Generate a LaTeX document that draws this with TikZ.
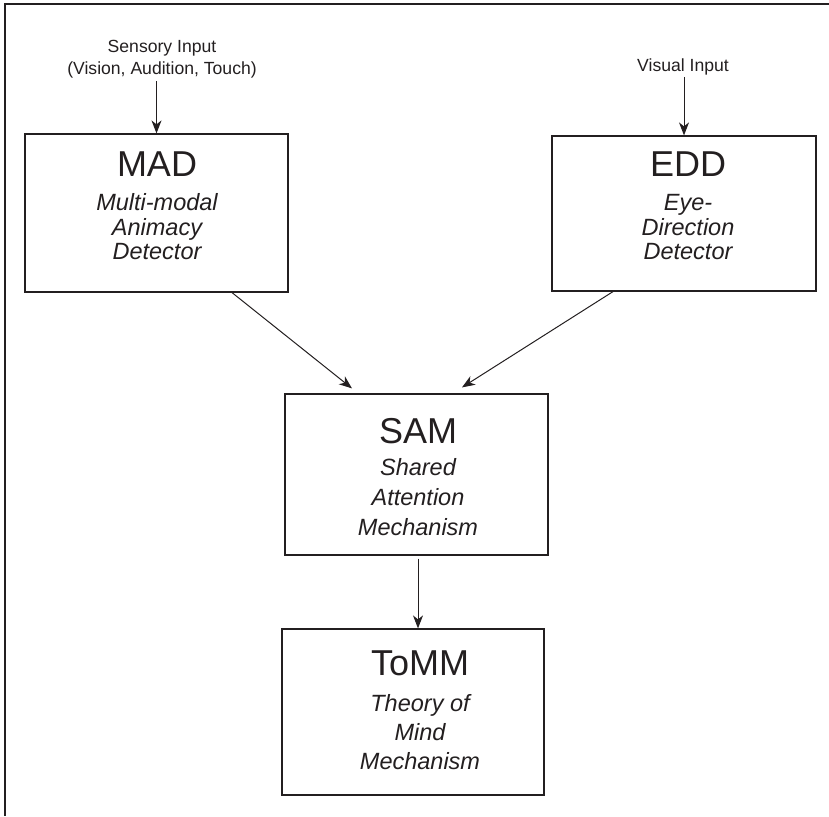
\documentclass[tikz,border=0pt]{standalone}
\usepackage{fontspec}
\setmainfont{Liberation Sans}
\usetikzlibrary{arrows.meta}
\definecolor{ink}{RGB}{35,31,32}
\begin{document}
\begin{tikzpicture}[x=1pt,y=-1pt,
  box/.style={draw=ink, line width=1.2pt, inner sep=0pt},
  btxt/.style={inner sep=0pt, align=center, text=ink, anchor=north},
  small/.style={inner sep=0pt, align=center, text=ink, font=\fontsize{17.6}{22.5}\selectfont},
  arr/.style={draw=ink, line width=1pt, -{Stealth[length=13pt,width=10pt,inset=4pt]}},
  frame/.style={draw=ink, line width=1.6pt}]
\useasboundingbox (0,0) rectangle (829,816);
\draw[frame] (829,4) -- (5,4) -- (5,816);

% boxes
\node[box, minimum width=263pt, minimum height=158pt] (mad) at (156.5,213) {};
\node[box, minimum width=264pt, minimum height=155pt] (edd) at (684,213.5) {};
\node[box, minimum width=263pt, minimum height=161pt] (sam) at (416.5,474.5) {};
\node[box, minimum width=262pt, minimum height=166pt] (tomm) at (413,712) {};

% box texts
\node[btxt, font=\itshape\fontsize{23.5}{24.5}\selectfont] (madt) at (157,152)
  {{\upshape\fontsize{36}{40}\selectfont MAD}\\[9.5pt]Multi-modal\\Animacy\\Detector};
\node[btxt, font=\itshape\fontsize{23.5}{24.5}\selectfont] (eddt) at (688,152)
  {{\upshape\fontsize{36}{40}\selectfont EDD}\\[9.5pt]Eye-\\Direction\\Detector};
\node[btxt, font=\itshape\fontsize{23.5}{30}\selectfont] (samt) at (418,418)
  {{\upshape\fontsize{36}{40}\selectfont SAM}\\[2pt]Shared\\Attention\\Mechanism};
\node[btxt, font=\itshape\fontsize{23.5}{29}\selectfont] (tommt) at (420,651)
  {{\upshape\fontsize{36}{40}\selectfont ToMM}\\[7pt]Theory of\\Mind\\Mechanism};

% inputs
\node[small, anchor=north] (sens) at (162,39.6) {Sensory Input\\(Vision, Audition, Touch)};
\node[small, anchor=base] (vis) at (683,71) {Visual Input};

% connectors
\draw[arr, shorten <=3pt] (sens.south -| mad.north) -- (mad.north);
\draw[arr, shorten <=2pt] (vis.south -| edd.north) -- (edd.north);
\draw[arr] ([xshift=75.5pt]mad.south) -- ([xshift=-64.5pt,yshift=5pt]sam.north);
\draw[arr] ([xshift=-71pt]edd.south) -- ([xshift=45.5pt,yshift=6pt]sam.north);
\draw[arr, shorten <=3pt] ([xshift=1.5pt]sam.south) -- ([xshift=5pt]tomm.north);
\end{tikzpicture}
\end{document}
